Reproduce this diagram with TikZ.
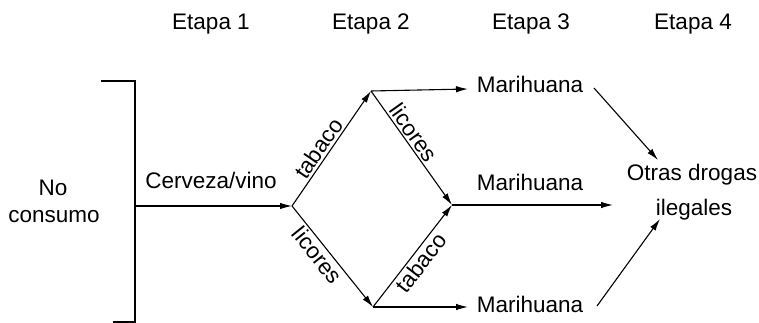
\documentclass[tikz,border=0pt]{standalone}
\usepackage{fontspec}
\setmainfont{Liberation Sans}
\usetikzlibrary{arrows.meta}
\tikzset{
  lbl/.style={font=\fontsize{22.5}{25}\selectfont, inner sep=0pt, anchor=base},
  edgelbl/.style={font=\fontsize{22.5}{25}\selectfont, inner sep=2pt, sloped},
  flow/.style={line width=1.1pt, -{Latex[length=12pt,width=6.5pt]}},
  plain/.style={line width=1.1pt}
}
\begin{document}
\begin{tikzpicture}[x=1pt,y=-1pt]
\useasboundingbox (0,0) rectangle (759,323);

% stage headings
\node[lbl] (e1) at (211,30) {Etapa 1};
\node[lbl] (e2) at (371,30) {Etapa 2};
\node[lbl] (e3) at (531,30) {Etapa 3};
\node[lbl] (e4) at (693,30) {Etapa 4};

% starting point and bracket
\node[lbl] (no) at (53,195) {No};
\node[lbl] (cons) at (54,222) {consumo};
\coordinate (bt) at (135,81);
\coordinate (bb) at (135,322);
\coordinate (btl) at (101,81);
\coordinate (bbl) at (113,322);
\coordinate (bm) at (135,206);
\draw[plain] (btl) -- (bt) -- (bb) -- (bbl);

% junctions of the branching paths
\coordinate (A) at (292,206);
\coordinate (B) at (371,91);
\coordinate (C) at (373,307);
\coordinate (D) at (452,205);

\node[lbl] (cv) at (211,188) {Cerveza/vino};
\draw[flow] (bm) -- (A);

\draw[flow] (A) -- node[edgelbl, above, pos=0.45] {tabaco} (B);
\draw[flow] (A) -- node[edgelbl, below, pos=0.42] {licores} (C);
\draw[flow] (B) -- node[edgelbl, above, pos=0.42] {licores} (D);
\draw[flow] (C) -- node[edgelbl, below, pos=0.5] {tabaco} (D);

% third stage
\node[lbl] (m1) at (530,93) {Marihuana};
\node[lbl] (m2) at (530,190) {Marihuana};
\node[lbl] (m3) at (530,312) {Marihuana};
\coordinate (m1in) at (468,89);
\coordinate (m3in) at (468,307);
\coordinate (m2out) at (613,205);
\draw[flow] (B) -- (m1in);
\draw[flow] (C) -- (m3in);
\draw[flow] (D) -- (m2out);

% fourth stage
\node[lbl] (o1) at (692,180) {Otras drogas};
\node[lbl] (o2) at (694,215) {ilegales};
\coordinate (m1out) at (594,88);
\coordinate (m3out) at (597,306);
\coordinate (o1in) at (658,160);
\coordinate (o2in) at (660,219);
\draw[flow] (m1out) -- (o1in);
\draw[flow] (m3out) -- (o2in);
\end{tikzpicture}
\end{document}
